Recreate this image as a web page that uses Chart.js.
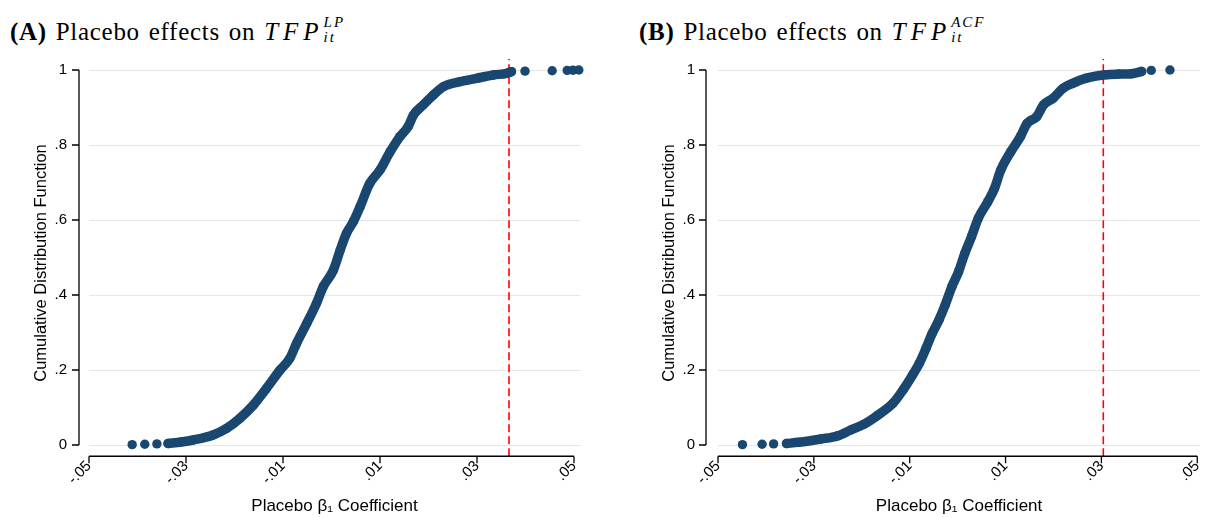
<!DOCTYPE html>
<html>
<head>
<meta charset="utf-8">
<script src="https://cdn.jsdelivr.net/npm/chart.js@4.4.1/dist/chart.umd.min.js"></script>
<style>
  body { margin: 0; background: #fff; width: 1211px; height: 517px; overflow: hidden; position: relative; }
  canvas { position: absolute; top: 0; }
  .ttl { position: absolute; top: 15px; font-family: "Liberation Serif", serif; font-size: 25px; line-height: 25px;
         letter-spacing: 0.7px; word-spacing: 2px; color: #000; white-space: nowrap; }
  .ttl .m { font-style: italic; letter-spacing: 5px; }
  .ttl .ss { position: relative; display: inline-block; width: 44px; height: 25px; }
  .ttl .sup, .ttl .sub { position: absolute; left: 0; font-style: italic; font-size: 15px; line-height: 15px; letter-spacing: 2px; }
  .ttl .sup { top: 0px; }
  .ttl .sub { top: 15px; }
</style>
</head>
<body>
<div class="ttl" style="left:10px"><b>(A)</b> Placebo effects on <span class="m">TFP</span><span class="ss"><span class="sup">LP</span><span class="sub">it</span></span></div>
<div class="ttl" style="left:639px"><b>(B)</b> Placebo effects on <span class="m">TFP</span><span class="ss"><span class="sup">ACF</span><span class="sub">it</span></span></div>
<canvas id="chartA" width="605" height="517" style="left:0"></canvas>
<canvas id="chartB" width="591" height="517" style="left:620px"></canvas>
<script>
// axis ticks shared by both panels
const xTicks = [-0.05, -0.03, -0.01, 0.01, 0.03, 0.05];
const xTickLabels = ['-.05', '-.03', '-.01', '.01', '.03', '.05'];
const yTicks = [0, 0.2, 0.4, 0.6, 0.8, 1];
const yTickLabels = ['0', '.2', '.4', '.6', '.8', '1'];

// panel A: TFP (LP) placebo coefficients, CDF
const lpX = [-0.0337, -0.0310, -0.0285, -0.0244, -0.0216, -0.0189, -0.0161, -0.0134, -0.0106, -0.0086,
  -0.0072, -0.0051, -0.0031, -0.0017, 0.0004, 0.0018, 0.0031, 0.0045, 0.0059, 0.0079,
  0.0100, 0.0121, 0.0141, 0.0158, 0.0169, 0.0189, 0.0210, 0.0231, 0.0265, 0.0299,
  0.0334, 0.0361, 0.0371];
const lpF = [0.004, 0.008, 0.0133, 0.0267, 0.0444, 0.0711, 0.1067, 0.1511, 0.2, 0.2311,
  0.2711, 0.3244, 0.3778, 0.4222, 0.4667, 0.52, 0.5644, 0.5956, 0.6356, 0.6978,
  0.7333, 0.7822, 0.8222, 0.8489, 0.88, 0.9067, 0.9333, 0.9556, 0.9689, 0.9778,
  0.9867, 0.9911, 0.9956];
const lpTailX = [-0.0411, -0.0385, -0.0360, 0.0399, 0.0455, 0.0486, 0.0498, 0.0510];
const lpTailF = [0.001, 0.002, 0.003, 0.997, 0.998, 0.999, 0.9995, 1];
const lpCutoff = 0.0366;

// panel B: TFP (ACF)
const acfX = [-0.0357, -0.0332, -0.0285, -0.0251, -0.0223, -0.0196, -0.0169, -0.0135, -0.0114, -0.0094,
  -0.0080, -0.0066, -0.0053, -0.0039, -0.0026, -0.0012, 0.0002, 0.0015, 0.0029, 0.0043,
  0.0063, 0.0077, 0.0090, 0.0111, 0.0131, 0.0145, 0.0165, 0.0179, 0.0199, 0.0220,
  0.0240, 0.0267, 0.0308, 0.0336, 0.0363, 0.0384];
const acfF = [0.004, 0.0071, 0.016, 0.024, 0.04, 0.0551, 0.0773, 0.1111, 0.1467, 0.1867,
  0.2178, 0.2578, 0.2978, 0.3333, 0.3733, 0.4222, 0.4622, 0.5111, 0.5556, 0.6044,
  0.6489, 0.6844, 0.7333, 0.7822, 0.8222, 0.8578, 0.8756, 0.9067, 0.9244, 0.9511,
  0.9644, 0.9778, 0.9873, 0.9891, 0.9902, 0.996];
const acfTailX = [-0.0449, -0.0408, -0.0384, 0.0404, 0.0443];
const acfTailF = [0.001, 0.002, 0.003, 0.999, 1];
const acfCutoff = 0.0304;

const navy = '#1a476f';
const font = 'Liberation Sans, Arial, sans-serif';

// Stata-like detached axes: y axis left of the plot, x axis only from -.05 to .05
const statAxes = {
  id: 'statAxes',
  afterDraw(chart, args, o) {
    const { ctx, scales: { x, y } } = chart;
    ctx.save();
    ctx.strokeStyle = '#000';
    ctx.lineWidth = 1.3;
    const ax = chart.chartArea.left - o.gap;
    ctx.beginPath();
    ctx.moveTo(ax, y.getPixelForValue(1));
    ctx.lineTo(ax, y.getPixelForValue(0));
    yTicks.forEach(v => {
      const py = y.getPixelForValue(v);
      ctx.moveTo(ax - 7, py);
      ctx.lineTo(ax, py);
    });
    const ay = chart.chartArea.bottom;
    ctx.moveTo(x.getPixelForValue(-0.05), ay);
    ctx.lineTo(x.getPixelForValue(0.05), ay);
    xTicks.forEach(v => {
      const px = x.getPixelForValue(v);
      ctx.moveTo(px, ay);
      ctx.lineTo(px, ay + 7);
    });
    ctx.stroke();

    // y title, Stata centres it a bit lower than the plot area
    ctx.translate(o.titleX, o.titleY);
    ctx.rotate(-Math.PI / 2);
    ctx.fillStyle = '#000';
    ctx.font = '16.5px ' + font;
    ctx.textAlign = 'center';
    ctx.textBaseline = 'middle';
    ctx.fillText('Cumulative Distribution Function', 0, 0);
    ctx.restore();
  }
};

function toPts(xs, ys) {
  return xs.map((v, i) => ({ x: v, y: ys[i] }));
}

function makePanel(id, o) {
  return new Chart(document.getElementById(id), {
    type: 'scatter',
    data: {
      datasets: [
        {
          data: toPts(o.bodyX, o.bodyF), showLine: true, borderColor: navy, borderWidth: 9.5,
          borderCapStyle: 'round', borderJoinStyle: 'round', cubicInterpolationMode: 'monotone',
          pointRadius: 4.7, pointBackgroundColor: navy, pointBorderWidth: 0, clip: false, order: 1
        },
        {
          data: toPts(o.tailX, o.tailF), pointRadius: 4.7, pointBackgroundColor: navy,
          pointBorderWidth: 0, clip: false, order: 1
        },
        {
          data: [{ x: o.cutoff, y: -0.03 }, { x: o.cutoff, y: 1.03 }], showLine: true,
          borderColor: '#ff0000', borderWidth: 1.6, borderDash: [8, 4], pointRadius: 0, order: 2
        }
      ]
    },
    options: {
      responsive: false,
      animation: false,
      events: [],
      layout: { padding: { left: 0, right: o.padRight, top: 58.75, bottom: 0 } },
      plugins: {
        legend: { display: false },
        tooltip: { enabled: false },
        statAxes: { gap: o.gap, titleX: o.titleX, titleY: 263 }
      },
      scales: {
        x: {
          type: 'linear', min: -0.05, max: o.xMax,
          afterFit: s => { s.height = 60.75; },
          afterBuildTicks: s => { s.ticks = xTicks.map(v => ({ value: v })); },
          grid: { display: false, drawTicks: false },
          border: { display: false },
          ticks: {
            autoSkip: false, minRotation: 45, maxRotation: 45, padding: 1, color: '#000',
            font: { family: font, size: 15 },
            callback: (v, i) => xTickLabels[i]
          },
          title: {
            display: true, text: 'Placebo β₁ Coefficient', color: '#000',
            font: { family: font, size: 17 }, padding: { top: 0, bottom: 0 }
          }
        },
        y: {
          type: 'linear', min: -0.03, max: 1.03,
          afterFit: s => { s.width = o.yWidth; },
          afterBuildTicks: s => { s.ticks = yTicks.map(v => ({ value: v })); },
          grid: { color: '#e6e6e6', lineWidth: 1, drawTicks: false },
          border: { display: false },
          ticks: {
            padding: o.yPad, color: '#000', font: { family: font, size: 15 },
            callback: (v, i) => yTickLabels[i]
          }
        }
      }
    },
    plugins: [statAxes]
  });
}

makePanel('chartA', {
  bodyX: lpX, bodyF: lpF, tailX: lpTailX, tailF: lpTailF, cutoff: lpCutoff,
  xMax: 0.05124, padRight: 25, yWidth: 89, gap: 10, yPad: 22, titleX: 41.5
});
makePanel('chartB', {
  bodyX: acfX, bodyF: acfF, tailX: acfTailX, tailF: acfTailF, cutoff: acfCutoff,
  xMax: 0.0506, padRight: 1, yWidth: 98, gap: 12, yPad: 23, titleX: 49
});
</script>
</body>
</html>
